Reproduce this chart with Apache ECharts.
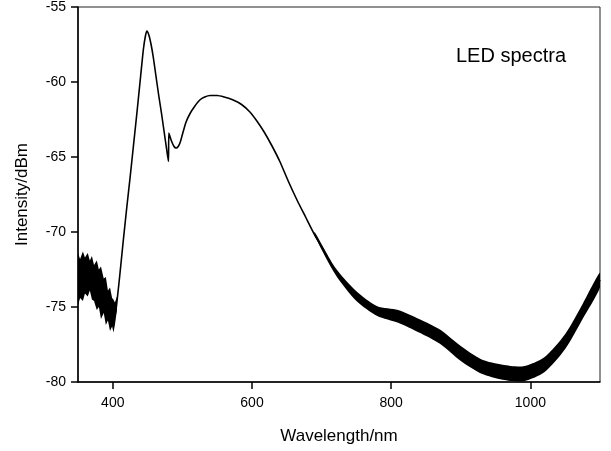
<!DOCTYPE html>
<html>
<head>
<meta charset="utf-8">
<script src="https://cdn.jsdelivr.net/npm/echarts@6/dist/echarts.min.js"></script>
<style>html,body{margin:0;padding:0;background:#fff}#c{width:611px;height:451px}</style>
</head>
<body>
<div id="c"></div>
<script>
// Smoothed centre of the measured spectrum (nm, dBm)
var wavelength = [350,355,360,365,370,375,380,385,390,395,400,403,407,410,415,420,425,430,435,440,444,447,449,452,455,458,462,466,470,474,478,480,480.5,484,488,491,494,497,500,505,511,518,525,532,540,550,560,573,585,597,607,617,628,640,652,665,677,689,700,712,724,735,746,758,770,782,794,806,818,830,842,855,866,878,890,900,910,921,933,945,957,969,981,993,1005,1015,1024,1033,1043,1052,1062,1072,1081,1090,1100];
var intensity  = [-73.0,-72.9,-72.8,-72.8,-73.0,-73.5,-73.8,-74.3,-74.8,-75.3,-75.6,-75.6,-74.2,-72.9,-70.6,-68.4,-66.3,-64.1,-61.9,-59.6,-57.8,-56.9,-56.6,-56.9,-57.5,-58.3,-59.6,-60.9,-62.1,-63.4,-64.7,-65.3,-63.4,-63.9,-64.3,-64.4,-64.3,-64.0,-63.5,-62.7,-62.1,-61.6,-61.2,-61.0,-60.9,-60.9,-61.0,-61.2,-61.5,-62.0,-62.6,-63.3,-64.2,-65.3,-66.6,-67.9,-69.0,-70.1,-71.0,-72.0,-72.9,-73.6,-74.2,-74.7,-75.1,-75.3,-75.5,-75.6,-75.8,-76.0,-76.3,-76.6,-76.9,-77.3,-77.7,-78.1,-78.5,-78.8,-79.0,-79.2,-79.35,-79.45,-79.5,-79.45,-79.3,-79.0,-78.7,-78.3,-77.8,-77.1,-76.2,-75.5,-74.9,-74.1,-73.2];

// Noise envelope, short-wavelength region (nm, lower dBm, upper dBm)
var noiseBlueWl    = [350,353,357,360,364,367,370,373,377,380,383,387,390,393,396,399,401,403,406];
var noiseBlueLow   = [-74.9,-74.4,-74.6,-74.1,-74.3,-73.9,-74.5,-74.6,-75.2,-75.0,-75.8,-75.4,-76.2,-75.9,-76.6,-76.3,-76.7,-76.2,-75.2];
var noiseBlueHigh  = [-71.4,-71.8,-71.3,-71.7,-71.4,-71.9,-71.6,-72.2,-71.9,-72.5,-72.3,-73.1,-73.0,-73.9,-73.7,-74.4,-74.5,-74.7,-74.3];

// Noise envelope, long-wavelength region
var noiseRedWl   = [690,720,750,780,810,840,870,900,930,960,990,1020,1050,1075,1100];
var noiseRedLow  = [-70.25,-72.85,-74.6,-75.6,-76.05,-76.7,-77.45,-78.6,-79.45,-79.85,-79.95,-79.35,-77.8,-75.8,-73.7];
var noiseRedHigh = [-70.0,-72.4,-73.95,-74.95,-75.2,-75.8,-76.5,-77.6,-78.5,-78.85,-78.95,-78.35,-76.8,-74.8,-72.7];

var xTicks = [400,600,800,1000];

var lineData = wavelength.map(function(w,i){return [w,intensity[i]];});
var bands = [
  {wl:noiseBlueWl, lo:noiseBlueLow, hi:noiseBlueHigh, smooth:0},
  {wl:noiseRedWl, lo:noiseRedLow, hi:noiseRedHigh, smooth:0.25}
];

var chart = echarts.init(document.getElementById('c'), null, {renderer:'canvas'});
var font = 'Liberation Sans, Arial, sans-serif';
chart.setOption({
  animation:false,
  backgroundColor:'#fff',
  grid:{left:78,right:11,top:7,bottom:69,show:true,borderColor:'#222',borderWidth:1,backgroundColor:'transparent'},
  xAxis:{
    type:'value',min:350,max:1100,
    name:'Wavelength/nm',nameLocation:'middle',nameGap:46,
    nameTextStyle:{fontFamily:font,fontSize:17,color:'#000'},
    axisLine:{show:true,onZero:false,lineStyle:{color:'#000',width:1.5}},
    axisTick:{show:true,length:7,lineStyle:{color:'#000',width:1.5},customValues:xTicks},
    axisLabel:{show:true,margin:14,fontFamily:font,fontSize:14,color:'#000',customValues:xTicks,formatter:function(v){return String(v);}},
    splitLine:{show:false}
  },
  yAxis:{
    type:'value',min:-80,max:-55,interval:5,
    name:'Intensity/dBm',nameLocation:'middle',nameGap:47,nameRotate:90,
    nameTextStyle:{fontFamily:font,fontSize:17,color:'#000'},
    axisLine:{show:true,onZero:false,lineStyle:{color:'#000',width:1.5}},
    axisTick:{show:true,length:7,lineStyle:{color:'#000',width:1.5}},
    axisLabel:{show:true,margin:12,fontFamily:font,fontSize:14,color:'#000',formatter:function(v){return String(v);}},
    splitLine:{show:false}
  },
  graphic:[{type:'text',left:456,top:46,style:{text:'LED spectra',font:'20px '+font,fill:'#000'}}],
  series:[
    {
      type:'custom',
      data:[0,1],
      clip:true,
      renderItem:function(params,api){
        var b = bands[params.dataIndex];
        var pts = [];
        for(var i=0;i<b.wl.length;i++) pts.push(api.coord([b.wl[i],b.hi[i]]));
        for(var j=b.wl.length-1;j>=0;j--) pts.push(api.coord([b.wl[j],b.lo[j]]));
        return {type:'polygon',shape:{points:pts,smooth:b.smooth},style:{fill:'#000'}};
      },
      silent:true,
      z:2
    },
    {
      type:'line',
      data:lineData,
      showSymbol:false,
      smooth:0.2,
      clip:true,
      lineStyle:{color:'#000',width:1.6},
      z:3
    }
  ]
});
</script>
</body>
</html>
